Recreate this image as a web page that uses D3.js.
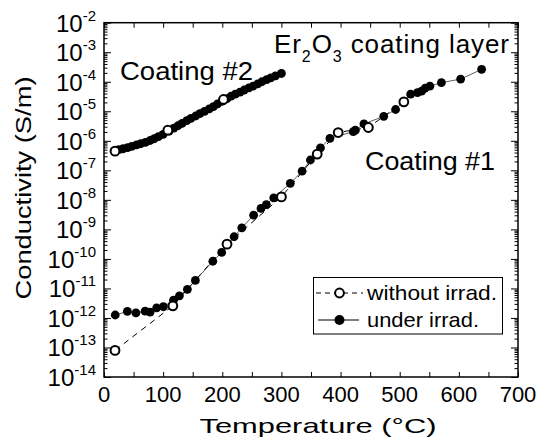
<!DOCTYPE html>
<html>
<head>
<meta charset="utf-8">
<script src="https://cdn.jsdelivr.net/npm/d3@7"></script>
<style>
  body { margin: 0; background: #fff; }
  svg text { font-family: "Liberation Sans", Arial, sans-serif; fill: #000; }
</style>
</head>
<body>
<svg id="chart" width="541" height="444"></svg>
<script>
const svg = d3.select("#chart");

// temperature (C) and log10 of conductivity (S/m)
const c2IrradT   = [25, 32, 40, 47, 55, 62, 70, 78, 85, 92, 100, 110, 118, 125, 132, 140, 147, 155, 162, 170,
                    178, 185, 192, 200, 208, 215, 222, 230, 237, 245, 252, 260, 267, 275, 282, 290, 300];
const c2IrradLog = [-6.30, -6.27, -6.23, -6.19, -6.14, -6.10, -6.05, -5.99, -5.93, -5.86, -5.78, -5.67, -5.57, -5.49, -5.41, -5.32, -5.24, -5.16, -5.08, -5.00,
                    -4.92, -4.84, -4.75, -4.66, -4.57, -4.49, -4.42, -4.35, -4.28, -4.21, -4.15, -4.07, -4.00, -3.93, -3.87, -3.80, -3.72];
const c2DarkT    = [18.6, 108, 202];
const c2DarkLog  = [-6.35, -5.64, -4.60];

const c1IrradT   = [19, 39.5, 54, 69.5, 78, 89, 100.5, 117.5, 127.5, 141, 154.5, 184, 199, 220, 233, 253, 265.5, 274.5, 287,
                    315, 335, 349, 366, 382, 421.5, 425, 439.5, 473, 493, 518.5, 530, 537, 543, 551, 570.5, 603, 638.5];
const c1IrradLog = [-11.90, -11.78, -11.83, -11.77, -11.80, -11.66, -11.62, -11.40, -11.25, -11.03, -10.73, -10.08, -9.78, -9.25, -8.95, -8.52, -8.29, -8.16, -7.93,
                    -7.44, -7.03, -6.65, -6.24, -5.92, -5.69, -5.64, -5.43, -5.17, -4.94, -4.42, -4.37, -4.32, -4.22, -4.15, -4.03, -3.91, -3.58];
const c1DarkT    = [18.6, 116.4, 208, 300, 360.5, 396, 447, 507];
const c1DarkLog  = [-13.10, -11.59, -9.50, -7.90, -6.45, -5.72, -5.55, -4.68];

const xTicks = [0, 100, 200, 300, 400, 500, 600, 700];
const yExps  = [-14, -13, -12, -11, -10, -9, -8, -7, -6, -5, -4, -3, -2];

const plotL = 104, plotR = 518, plotT = 22.7, plotB = 377;
const x = d3.scaleLinear().domain([0, 700]).range([plotL, plotR]);
const y = d3.scaleLog().domain([1e-14, 1e-2]).range([plotB, plotT]);

function pts(ts, logs) {
    return ts.map((t, i) => ({ t: t, v: Math.pow(10, logs[i]) }));
}
const c2Irrad = pts(c2IrradT, c2IrradLog);
const c2Dark  = pts(c2DarkT, c2DarkLog);
const c1Irrad = pts(c1IrradT, c1IrradLog);
const c1Dark  = pts(c1DarkT, c1DarkLog);

// ticks
const majorY = yExps.map(e => Math.pow(10, e));
const minorY = [];
yExps.slice(0, -1).forEach(e => {
    for (let k = 2; k <= 9; k++) minorY.push(k * Math.pow(10, e));
});
const xMinor = d3.range(0, 701, 50);

function drawAxis(axis, tx, ty) {
    const g = svg.append("g").attr("transform", `translate(${tx},${ty})`).call(axis);
    g.select(".domain").remove();
    g.selectAll("line").attr("stroke", "#000").attr("stroke-width", 1);
    g.selectAll("text").remove();
}
drawAxis(d3.axisLeft(y).tickValues(majorY).tickSize(-7), plotL, 0);
drawAxis(d3.axisLeft(y).tickValues(minorY).tickSize(-3.5), plotL, 0);
drawAxis(d3.axisRight(y).tickValues(majorY).tickSize(-7), plotR, 0);
drawAxis(d3.axisRight(y).tickValues(minorY).tickSize(-3.5), plotR, 0);
drawAxis(d3.axisBottom(x).tickValues(xMinor).tickSize(-5), 0, plotB);
drawAxis(d3.axisTop(x).tickValues(xMinor).tickSize(-5), 0, plotT);

svg.append("rect")
    .attr("x", plotL).attr("y", plotT)
    .attr("width", plotR - plotL).attr("height", plotB - plotT)
    .attr("fill", "none").attr("stroke", "#000").attr("stroke-width", 1.5);

// tick labels
svg.append("g").selectAll("text")
    .data(xTicks).enter().append("text")
    .attr("x", d => x(d)).attr("y", 402)
    .attr("text-anchor", "middle")
    .style("font-size", "22px")
    .text(d => d);

const yl = svg.append("g").selectAll("text")
    .data(yExps).enter().append("text")
    .attr("x", 96).attr("y", d => y(Math.pow(10, d)) + 9)
    .attr("text-anchor", "end")
    .style("font-size", "24px");
yl.append("tspan").text("10");
yl.append("tspan").attr("dy", -11).style("font-size", "15px").text(d => "-" + Math.abs(d));

// axis titles
svg.append("text")
    .attr("x", 318).attr("y", 433)
    .attr("text-anchor", "middle")
    .attr("textLength", 237).attr("lengthAdjust", "spacingAndGlyphs")
    .style("font-size", "21px")
    .text("Temperature (\u00B0C)");

svg.append("text")
    .attr("transform", "translate(31,188) rotate(-90)")
    .attr("text-anchor", "middle")
    .attr("textLength", 223).attr("lengthAdjust", "spacingAndGlyphs")
    .style("font-size", "22px")
    .text("Conductivity (S/m)");

// lines
const line = d3.line().x(d => x(d.t)).y(d => y(d.v));
[c2Dark, c1Dark].forEach(s => {
    svg.append("path").datum(s).attr("d", line)
        .attr("fill", "none").attr("stroke", "#000").attr("stroke-width", 1)
        .attr("stroke-dasharray", "6,5");
});
[c2Irrad, c1Irrad].forEach(s => {
    svg.append("path").datum(s).attr("d", line)
        .attr("fill", "none").attr("stroke", "#333").attr("stroke-width", 0.8);
});

// markers
[c2Irrad, c1Irrad].forEach(s => {
    svg.append("g").selectAll("circle").data(s).enter().append("circle")
        .attr("cx", d => x(d.t)).attr("cy", d => y(d.v)).attr("r", 4.4)
        .attr("fill", "#000");
});
[c2Dark, c1Dark].forEach(s => {
    svg.append("g").selectAll("circle").data(s).enter().append("circle")
        .attr("cx", d => x(d.t)).attr("cy", d => y(d.v)).attr("r", 4.4)
        .attr("fill", "#fff").attr("stroke", "#000").attr("stroke-width", 2);
});

// annotations
svg.append("text").attr("x", 120).attr("y", 80)
    .attr("textLength", 133).attr("lengthAdjust", "spacingAndGlyphs")
    .style("font-size", "25px").text("Coating #2");

svg.append("text").attr("x", 365).attr("y", 170)
    .attr("textLength", 130).attr("lengthAdjust", "spacingAndGlyphs")
    .style("font-size", "25px").text("Coating #1");

const er = svg.append("text").attr("x", 274).attr("y", 53)
    .style("font-size", "26px").style("letter-spacing", "0.9px");
er.append("tspan").text("Er");
er.append("tspan").attr("dy", 9).style("font-size", "16px").text("2");
er.append("tspan").attr("dy", -9).text("O");
er.append("tspan").attr("dy", 9).style("font-size", "16px").text("3");
er.append("tspan").attr("dy", -9).text(" coating layer");

// legend
const lg = svg.append("g");
lg.append("rect").attr("x", 313.5).attr("y", 277.5).attr("width", 189).attr("height", 56.5)
    .attr("fill", "#fff").attr("stroke", "#000").attr("stroke-width", 1);
lg.append("line").attr("x1", 316).attr("x2", 363).attr("y1", 293).attr("y2", 293)
    .attr("stroke", "#000").attr("stroke-width", 1).attr("stroke-dasharray", "5,4");
lg.append("circle").attr("cx", 339.5).attr("cy", 293).attr("r", 4.4)
    .attr("fill", "#fff").attr("stroke", "#000").attr("stroke-width", 2);
lg.append("line").attr("x1", 318).attr("x2", 359).attr("y1", 320).attr("y2", 320)
    .attr("stroke", "#000").attr("stroke-width", 1.2);
lg.append("circle").attr("cx", 339.5).attr("cy", 320).attr("r", 5).attr("fill", "#000");
lg.append("text").attr("x", 367).attr("y", 300)
    .attr("textLength", 130).attr("lengthAdjust", "spacingAndGlyphs")
    .style("font-size", "21px").text("without irrad.");
lg.append("text").attr("x", 367).attr("y", 327)
    .attr("textLength", 112).attr("lengthAdjust", "spacingAndGlyphs")
    .style("font-size", "21px").text("under irrad.");
</script>
</body>
</html>
